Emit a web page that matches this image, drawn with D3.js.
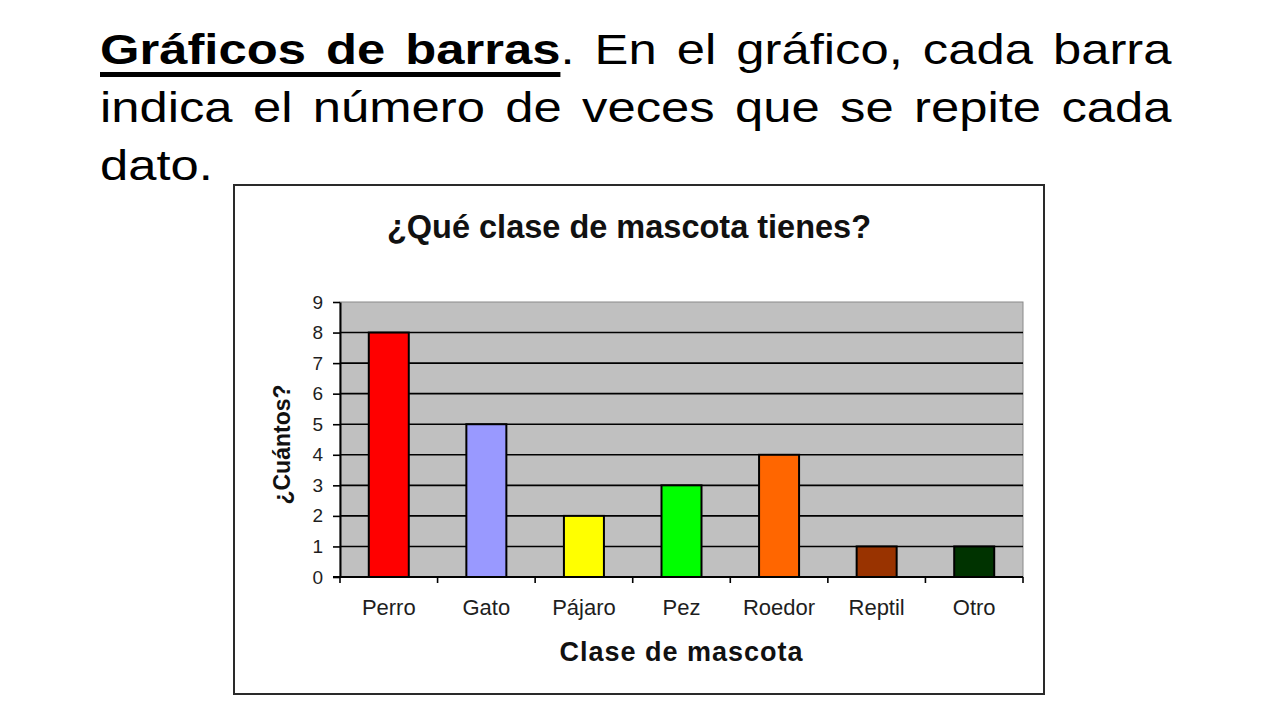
<!DOCTYPE html>
<html>
<head>
<meta charset="utf-8">
<script src="https://cdn.jsdelivr.net/npm/d3@7"></script>
<style>
  body { margin: 0; background: #fff; width: 1280px; height: 720px; overflow: hidden; position: relative; }
  #heading {
    position: absolute; left: 100px; top: 20px; width: 908px;
    font-family: "Liberation Sans", Arial, sans-serif; font-size: 43px; line-height: 58px;
    color: #000;
    transform: scaleX(1.18); transform-origin: 0 0;
  }
  #heading div { white-space: nowrap; text-align: justify; text-align-last: justify; }
  #heading div.last { text-align-last: left; }
  #heading u { font-weight: bold; text-decoration-thickness: 5px; text-underline-offset: 8px; }
  #chart { position: absolute; left: 0; top: 0; }
</style>
</head>
<body>
<div id="heading"></div>
<div id="chart"></div>
<script>
var categories = ["Perro", "Gato", "Pájaro", "Pez", "Roedor", "Reptil", "Otro"];
var counts = [8, 5, 2, 3, 4, 1, 1];
var barColors = ["#ff0000", "#9999ff", "#ffff00", "#00ff00", "#ff6600", "#993300", "#003300"];
var yTicks = [0, 1, 2, 3, 4, 5, 6, 7, 8, 9];

var headingBold = "Gráficos de barras";
var headingLines = [". En el gráfico, cada barra", "indica el número de veces que se repite cada", "dato."];
var chartTitle = "¿Qué clase de mascota tienes?";
var xTitle = "Clase de mascota";
var yTitle = "¿Cuántos?";

var font = '"Liberation Sans", Arial, sans-serif';

// heading, one justified line per div
var heading = d3.select("#heading");
var line1 = heading.append("div");
line1.append("u").text(headingBold);
line1.append("span").text(headingLines[0]);
heading.append("div").text(headingLines[1]);
heading.append("div").attr("class", "last").text(headingLines[2]);

var width = 1280, height = 720;
var svg = d3.select("#chart").append("svg")
    .attr("width", width)
    .attr("height", height)
    .style("font-family", font);

// outer frame of the chart
svg.append("rect")
    .attr("x", 234).attr("y", 185)
    .attr("width", 810).attr("height", 509)
    .attr("fill", "#fff")
    .attr("stroke", "#2a2a2a")
    .attr("stroke-width", 2);

var plot = { left: 340, right: 1023, top: 302, bottom: 577 };

var x = d3.scaleBand()
    .domain(categories)
    .range([plot.left, plot.right])
    .padding(0);

var y = d3.scaleLinear()
    .domain([0, 9])
    .range([plot.bottom, plot.top]);

// plot area
svg.append("rect")
    .attr("x", plot.left).attr("y", plot.top)
    .attr("width", plot.right - plot.left)
    .attr("height", plot.bottom - plot.top)
    .attr("fill", "#c0c0c0")
    .attr("stroke", "#8a8a8a")
    .attr("stroke-width", 1);

// gridlines
svg.append("g")
    .selectAll("line")
    .data(yTicks.filter(d => d > 0 && d < 9))
    .enter().append("line")
    .attr("x1", plot.left).attr("x2", plot.right)
    .attr("y1", d => y(d)).attr("y2", d => y(d))
    .attr("stroke", "#000")
    .attr("stroke-width", 1.6);

// bars
var barW = x.bandwidth() * 0.41;
svg.append("g")
    .selectAll("rect")
    .data(categories)
    .enter().append("rect")
    .attr("x", d => x(d) + (x.bandwidth() - barW) / 2)
    .attr("y", (d, i) => y(counts[i]))
    .attr("width", barW)
    .attr("height", (d, i) => y(0) - y(counts[i]))
    .attr("fill", (d, i) => barColors[i])
    .attr("stroke", "#000")
    .attr("stroke-width", 2);

// y axis
var yAxis = svg.append("g")
    .attr("transform", "translate(" + plot.left + ",0)")
    .call(d3.axisLeft(y).tickValues(yTicks).tickSize(7).tickPadding(10).tickSizeOuter(0));
yAxis.select(".domain").attr("stroke", "#000").attr("stroke-width", 2);
yAxis.selectAll(".tick line").attr("stroke", "#000").attr("stroke-width", 1.6);
yAxis.selectAll(".tick text")
    .style("font-family", font)
    .style("font-size", "19px")
    .attr("fill", "#1e1e1e");

// x axis: line with ticks at the category boundaries
var bounds = categories.map(d => x(d)).concat([x.range()[1]]);
svg.append("line")
    .attr("x1", plot.left - 7).attr("x2", plot.right)
    .attr("y1", plot.bottom).attr("y2", plot.bottom)
    .attr("stroke", "#000")
    .attr("stroke-width", 2);
svg.append("g")
    .selectAll("line")
    .data(bounds)
    .enter().append("line")
    .attr("x1", d => d).attr("x2", d => d)
    .attr("y1", plot.bottom).attr("y2", plot.bottom + 6)
    .attr("stroke", "#000")
    .attr("stroke-width", 1.6);

svg.append("g")
    .selectAll("text")
    .data(categories)
    .enter().append("text")
    .attr("x", d => x(d) + x.bandwidth() / 2)
    .attr("y", 615)
    .attr("text-anchor", "middle")
    .style("font-size", "22px")
    .attr("fill", "#1e1e1e")
    .text(d => d);

// titles
svg.append("text")
    .attr("x", 629).attr("y", 238)
    .attr("text-anchor", "middle")
    .style("font-size", "32.5px")
    .style("font-weight", "bold")
    .attr("fill", "#111")
    .text(chartTitle);

svg.append("text")
    .attr("x", (plot.left + plot.right) / 2).attr("y", 661)
    .attr("text-anchor", "middle")
    .style("font-size", "27px")
    .style("font-weight", "bold")
    .style("letter-spacing", "1px")
    .attr("fill", "#111")
    .text(xTitle);

svg.append("text")
    .attr("transform", "translate(290," + ((plot.top + plot.bottom) / 2 + 5) + ") rotate(-90)")
    .attr("text-anchor", "middle")
    .style("font-size", "23px")
    .style("font-weight", "bold")
    .attr("fill", "#111")
    .text(yTitle);
</script>
</body>
</html>
